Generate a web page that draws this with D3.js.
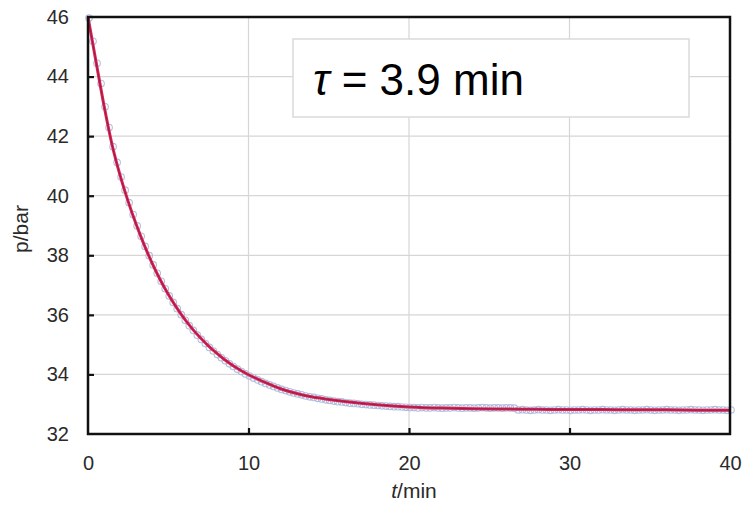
<!DOCTYPE html>
<html><head><meta charset="utf-8">
<script src="https://cdn.jsdelivr.net/npm/d3@7"></script>
<style>body{margin:0;background:#fff}svg{display:block}</style>
</head><body>
<script>
// ---- data ----
const xTicks = [0, 10, 20, 30, 40];
const yTicks = [32, 34, 36, 38, 40, 42, 44, 46];
const xLabel = "/min";
const yLabel = "p/bar";
const annotation = " = 3.9 min";
// measured pressure, sampled every 0.25 min from t = 0
const sampleStep = 0.25;
const measuredP = [
46.00,45.22,44.48,43.80,43.02,42.32,41.68,41.15,40.66,40.22,
39.80,39.40,39.02,38.67,38.33,38.02,37.71,37.43,37.16,36.91,
36.67,36.45,36.24,36.04,35.85,35.67,35.51,35.35,35.21,35.07,
34.94,34.82,34.70,34.59,34.49,34.39,34.30,34.21,34.13,34.05,
33.98,33.91,33.85,33.79,33.73,33.68,33.63,33.58,33.53,33.49,
33.45,33.41,33.38,33.35,33.31,33.28,33.26,33.23,33.21,33.18,
33.16,33.14,33.12,33.11,33.09,33.07,33.06,33.05,33.03,33.02,
33.01,33.00,32.99,32.98,32.97,32.96,32.95,32.95,32.94,32.93,
32.92,32.92,32.91,32.92,32.91,32.91,32.92,32.91,32.90,32.91,
32.91,32.92,32.91,32.90,32.91,32.91,32.90,32.91,32.92,32.91,
32.90,32.91,32.91,32.90,32.91,32.91,32.90,32.84,32.85,32.84,
32.83,32.84,32.85,32.84,32.84,32.83,32.84,32.85,32.84,32.84,
32.83,32.84,32.84,32.85,32.84,32.83,32.84,32.84,32.85,32.84,
32.84,32.83,32.84,32.85,32.84,32.84,32.83,32.84,32.84,32.85,
32.84,32.83,32.84,32.84,32.85,32.84,32.84,32.83,32.84,32.84,
32.85,32.84,32.84,32.83,32.84,32.84,32.85,32.84,32.84,32.83,
32.84
];
// fitted curve
const fitT = [0,0.5,1,1.5,2,2.5,3,3.5,4,4.5,5,5.5,6,6.5,7,7.5,8,8.5,9,9.5,10,11,12,13,14,15,16,17,18,19,20,22,24,26,28,30,32,34,36,38,40];
const fitP = [46.00,44.50,43.02,41.71,40.68,39.81,39.04,38.35,37.73,37.18,36.69,36.26,35.87,35.53,35.23,34.96,34.72,34.50,34.31,34.14,33.99,33.74,33.52,33.36,33.24,33.16,33.09,33.03,32.98,32.94,32.91,32.87,32.85,32.84,32.83,32.82,32.82,32.81,32.81,32.80,32.80];

// ---- layout ----
const W = 746, H = 505;
const m = {left: 88, right: 746 - 730, top: 17, bottom: 505 - 434};
const svg = d3.select("body").append("svg").attr("width", W).attr("height", H);
const x = d3.scaleLinear().domain([0, 40]).range([m.left, W - m.right]);
const y = d3.scaleLinear().domain([32, 46]).range([H - m.bottom, m.top]);
const font = "Liberation Sans, Arial, sans-serif";

// grid
svg.append("g").selectAll("line").data(yTicks.slice(1, -1)).join("line")
  .attr("x1", x(0)).attr("x2", x(40)).attr("y1", d => y(d)).attr("y2", d => y(d))
  .attr("stroke", "#d6d6d6").attr("stroke-width", 1.2);
svg.append("g").selectAll("line").data(xTicks.slice(1, -1)).join("line")
  .attr("y1", y(32)).attr("y2", y(46)).attr("x1", d => x(d)).attr("x2", d => x(d))
  .attr("stroke", "#d6d6d6").attr("stroke-width", 1.2);

// annotation box
svg.append("rect").attr("x", 293).attr("y", 39).attr("width", 396).attr("height", 78)
  .attr("fill", "#fff").attr("stroke", "#dadada").attr("stroke-width", 1.5);
const tt = svg.append("text").attr("x", 313).attr("y", 95)
  .attr("font-family", font).attr("font-size", 44).attr("fill", "#000");
tt.append("tspan").attr("font-style", "italic").text("τ");
tt.append("tspan").text(annotation);

// measured points
const measured = measuredP.map((p, i) => ({t: i * sampleStep, p}));
svg.append("g").selectAll("circle").data(measured).join("circle")
  .attr("cx", d => x(d.t) + 1).attr("cy", d => y(d.p) + 1).attr("r", 3.3)
  .attr("fill", "none").attr("stroke", "#a9b8dc").attr("stroke-width", 1.1).attr("opacity", 0.9);

// fit line
const line = d3.line().x(d => x(d[0])).y(d => y(d[1])).curve(d3.curveMonotoneX);
const fit = fitT.map((t, i) => [t, fitP[i]]);
svg.append("path").datum(fit).attr("d", line).attr("fill", "none")
  .attr("stroke", "#e2204e").attr("stroke-width", 3);
svg.append("path").datum(fit).attr("d", line).attr("fill", "none")
  .attr("stroke", "#7d2150").attr("stroke-width", 1).attr("opacity", 0.8);

// frame
svg.append("rect").attr("x", x(0)).attr("y", y(46)).attr("width", x(40) - x(0)).attr("height", y(32) - y(46))
  .attr("fill", "none").attr("stroke", "#111").attr("stroke-width", 2.5);

// axes (inward ticks)
const ya = svg.append("g").attr("transform", `translate(${x(0)},0)`)
  .call(d3.axisLeft(y).tickValues(yTicks).tickSize(-6).tickPadding(19).tickFormat(d3.format("d")));
const xa = svg.append("g").attr("transform", `translate(0,${y(32)})`)
  .call(d3.axisBottom(x).tickValues(xTicks).tickSize(-6).tickPadding(22).tickFormat(d3.format("d")));
[ya, xa].forEach(g => {
  g.select(".domain").remove();
  g.selectAll(".tick line").attr("stroke", "#111").attr("stroke-width", 2.2);
  g.selectAll(".tick text").attr("font-family", font).attr("font-size", 20).attr("fill", "#2a2a2a");
});
ya.selectAll(".tick line").filter(d => d === 32 || d === 46).remove();
xa.selectAll(".tick line").filter(d => d === 0 || d === 40).remove();

// axis titles
const xt = svg.append("text").attr("x", 414).attr("y", 498).attr("text-anchor", "middle")
  .attr("font-family", font).attr("font-size", 21).attr("fill", "#2a2a2a");
xt.append("tspan").attr("font-style", "italic").text("t");
xt.append("tspan").text(xLabel);
svg.append("text").attr("transform", "translate(28,229) rotate(-90)").attr("text-anchor", "middle")
  .attr("font-family", font).attr("font-size", 21).attr("fill", "#2a2a2a").text(yLabel);
</script>
</body></html>
